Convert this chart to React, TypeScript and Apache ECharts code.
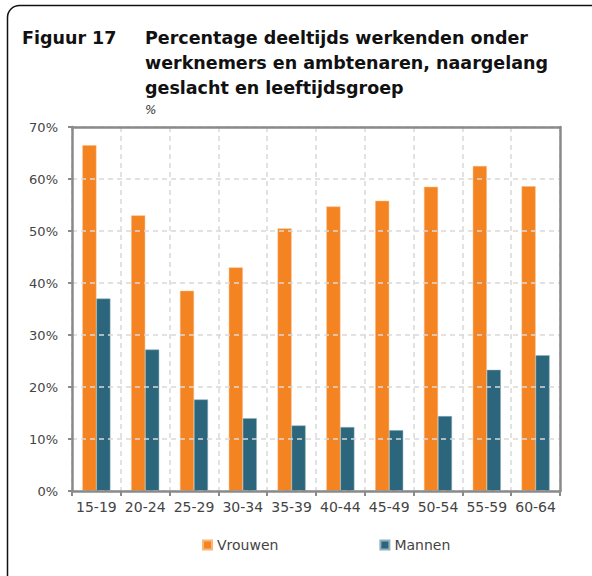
import React, { useEffect, useRef } from "react";
import * as echarts from "echarts";

const categories = ["15-19", "20-24", "25-29", "30-34", "35-39", "40-44", "45-49", "50-54", "55-59", "60-64"];
const vrouwen = [66.5, 53.0, 38.5, 43.0, 50.5, 54.7, 55.8, 58.5, 62.5, 58.6];
const mannen = [37.0, 27.2, 17.6, 14.0, 12.6, 12.3, 11.7, 14.4, 23.3, 26.1];
const yTicks = [0, 10, 20, 30, 40, 50, 60, 70];

export default function App() {
  const ref = useRef<HTMLDivElement>(null);
  useEffect(() => {
    if (!ref.current) return;
    const chart = echarts.init(ref.current, null, { renderer: "svg" });
    const font = "DejaVu Sans";
    const axisGray = "#8a8a8a";
    chart.setOption({
      animation: false,
      backgroundColor: "#fff",
      textStyle: { fontFamily: font },
      graphic: [
        {
          type: "rect",
          shape: { x: 7.5, y: 5.5, width: 700, height: 700, r: 12 },
          style: { fill: "none", stroke: "#111", lineWidth: 1.5 },
          silent: true,
        },
        {
          type: "text",
          left: 22,
          top: 25,
          style: { text: "Figuur 17", font: `bold 17.5px ${font}`, lineHeight: 25, fill: "#111" },
        },
        {
          type: "text",
          left: 145,
          top: 25,
          style: {
            text: "Percentage deeltijds werkenden onder\nwerknemers en ambtenaren, naargelang\ngeslacht en leeftijdsgroep",
            font: `bold 17.5px ${font}`,
            lineHeight: 25,
            fill: "#111",
          },
        },
        {
          type: "text",
          left: 145,
          top: 104,
          style: { text: "%", font: `italic 12px ${font}`, fill: "#333" },
        },
      ],
      grid: {
        left: 72,
        right: 32,
        top: 127,
        bottom: 85,
      },
      legend: {
        left: 202,
        top: 538,
        padding: 0,
        itemWidth: 9,
        itemHeight: 9,
        itemGap: 101,
        icon: "rect",
        textStyle: { color: "#444", fontSize: 14, fontFamily: font },
        data: ["Vrouwen", "Mannen"],
      },
      xAxis: [
        {
          type: "category",
          data: categories,
          axisLine: { show: true, lineStyle: { color: axisGray, width: 2.5 } },
          axisTick: { show: true, length: 5, lineStyle: { color: axisGray, width: 2 } },
          axisLabel: { color: "#444", fontSize: 14, margin: 9, interval: 0 },
          splitLine: { show: true, interval: 0, lineStyle: { color: "#d9d9d9", type: [5, 4], width: 1.5 } },
          z: 3,
        },
        {
          type: "category",
          position: "top",
          data: categories,
          axisLine: { show: true, onZero: false, lineStyle: { color: axisGray, width: 2.5 } },
          axisTick: { show: false },
          axisLabel: { show: false },
          splitLine: { show: false },
          z: 3,
        },
      ],
      yAxis: [
        {
          type: "value",
          min: 0,
          max: 70,
          interval: 10,
          axisLine: { show: true, lineStyle: { color: axisGray, width: 2.5 } },
          axisTick: { show: true, length: 4, lineStyle: { color: axisGray, width: 2 } },
          axisLabel: {
            color: "#444",
            fontSize: 13,
            margin: 14,
            formatter: (v: number) => (yTicks.includes(v) ? `${v}%` : ""),
          },
          splitLine: { show: true, lineStyle: { color: "#d9d9d9", type: [5, 4], width: 1.5 } },
          z: 3,
        },
        {
          type: "value",
          position: "right",
          min: 0,
          max: 70,
          interval: 10,
          axisLine: { show: true, onZero: false, lineStyle: { color: axisGray, width: 2.5 } },
          axisTick: { show: false },
          axisLabel: { show: false },
          splitLine: { show: false },
          z: 3,
        },
      ],
      series: [
        {
          name: "Vrouwen",
          type: "bar",
          data: vrouwen,
          barWidth: 14,
          barGap: "0%",
          itemStyle: { color: "#f48421", borderColor: "#f9b77c", borderWidth: 0.5 },
        },
        {
          name: "Mannen",
          type: "bar",
          data: mannen,
          barWidth: 14,
          barGap: "0%",
          itemStyle: { color: "#2c667c", borderColor: "#8fb0bd", borderWidth: 0.5 },
        },
      ],
    });
    return () => chart.dispose();
  }, []);
  return (
    <div
      ref={ref}
      style={{ position: "fixed", left: 0, top: 0, width: 592, height: 576 }}
    />
  );
}
